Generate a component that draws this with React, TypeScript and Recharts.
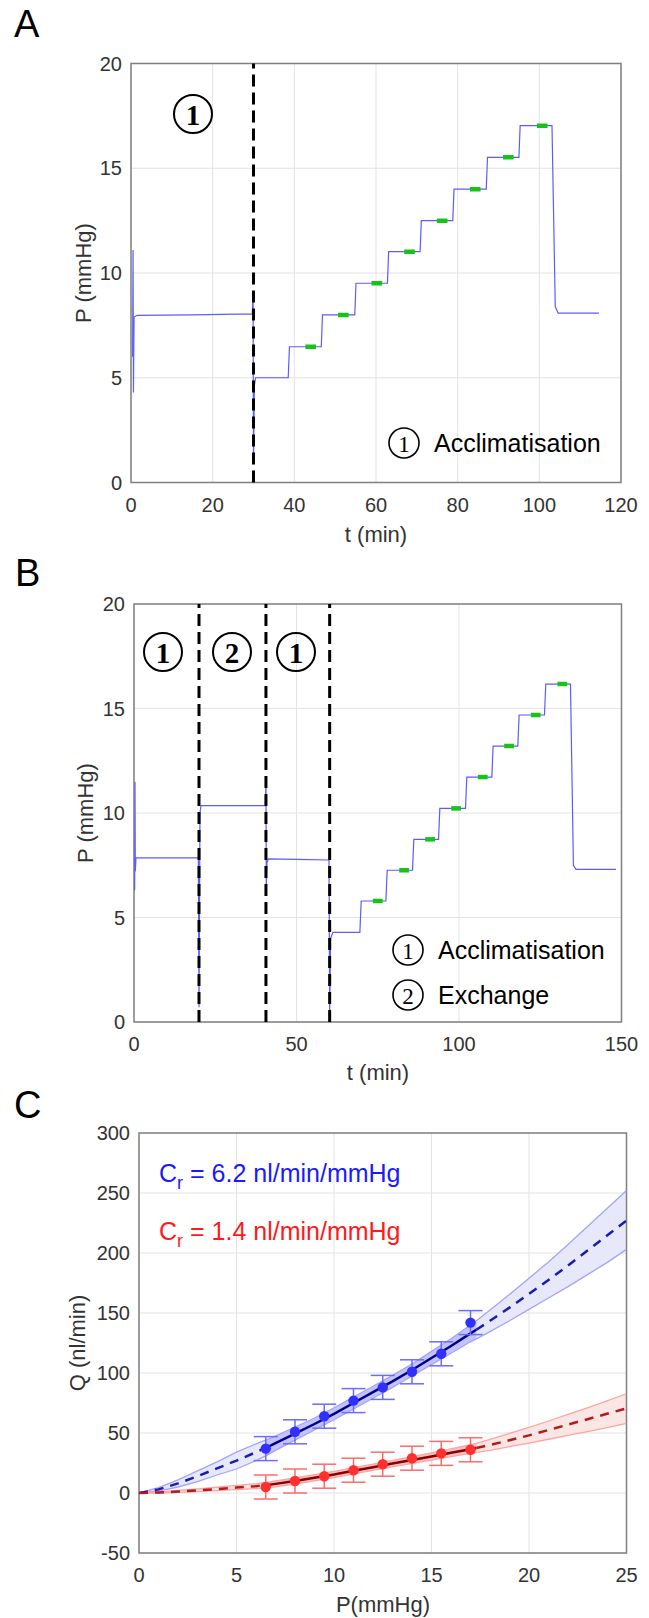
import React from 'react';
import {
  LineChart, Line, XAxis, YAxis, CartesianGrid, ReferenceLine, ReferenceArea,
  ComposedChart, Area, Scatter, ErrorBar,
} from 'recharts';

// ---------- Panel A data ----------
const traceA_t = [0.4, 0.5, 0.6, 0.75, 1.5, 15, 29.7, 29.9, 30.0, 30.2, 30.5, 38.5, 38.8, 46.6, 46.9, 54.8, 55.1, 62.8, 63.1, 70.8, 71.1, 78.8, 79.1, 87.0, 87.3, 95.0, 95.3, 103.1, 103.9, 104.6, 114.6];
const traceA_P = [6.0, 11.1, 4.3, 7.9, 7.98, 8.0, 8.05, 9.0, 0.9, 4.6, 5.0, 5.0, 6.48, 6.48, 8.0, 8.0, 9.51, 9.51, 11.02, 11.02, 12.5, 12.5, 14.0, 14.0, 15.52, 15.52, 17.03, 17.03, 8.4, 8.08, 8.08];
const greenA_t = [44.0, 52.0, 60.2, 68.2, 76.2, 84.3, 92.4, 100.7];
const greenA_P = [6.48, 8.0, 9.51, 11.02, 12.5, 14.0, 15.52, 17.03];
const phaseA = [30];
const ticksA_x = [0, 20, 40, 60, 80, 100, 120];

// ---------- Panel B data ----------
const traceB_t = [0.2, 0.3, 0.4, 0.6, 10, 19.8, 20.0, 20.3, 20.6, 30, 40.4, 40.6, 40.7, 40.9, 41.3, 50, 60.0, 60.2, 60.5, 61.2, 69.5, 69.9, 77.5, 77.9, 85.7, 86.1, 93.7, 94.1, 102.0, 102.4, 110.1, 110.5, 118.1, 118.5, 126.3, 126.7, 134.3, 135.2, 136.0, 148.3];
const traceB_P = [6.3, 11.5, 7.2, 7.85, 7.85, 7.85, 0.7, 10.0, 10.35, 10.35, 10.35, 11.4, 6.4, 7.6, 7.8, 7.78, 7.75, 0.5, 4.0, 4.29, 4.29, 5.79, 5.79, 7.26, 7.26, 8.74, 8.74, 10.22, 10.22, 11.72, 11.72, 13.2, 13.2, 14.69, 14.69, 16.17, 16.17, 7.5, 7.3, 7.3];
const greenB_t = [75.0, 83.1, 91.1, 99.1, 107.3, 115.4, 123.6, 131.8];
const greenB_P = [5.79, 7.26, 8.74, 10.22, 11.72, 13.2, 14.69, 16.17];
const phaseB = [20, 40.6, 60.2];
const ticksB_x = [0, 50, 100, 150];

const ticksP = [0, 5, 10, 15, 20];

// ---------- Panel C data ----------
const fitP = [0, 1, 2, 3, 4, 5, 6, 6.5, 7, 8, 9, 10, 11, 12, 13, 14, 15, 16, 17, 17.3, 18, 19, 20, 21, 22, 23, 24, 25];
const blueFit = [0, 3, 8, 14, 20.5, 27, 34, 37.5, 41.5, 49.5, 57.5, 66, 75, 84, 93, 102.5, 112.5, 122.5, 133, 136, 143.5, 154.5, 166, 177.5, 189.5, 202, 214.5, 227];
const blueLo = [0, 1.5, 5, 9.5, 15, 20, 27, 31, 35.5, 44, 52.5, 61, 70, 79, 88, 97.5, 107, 116.5, 126, 128.5, 134.5, 143.5, 153, 162.5, 172, 182, 192, 203];
const blueHi = [0, 4.5, 11, 18.5, 26, 34, 41, 44, 47.5, 55, 62.5, 71, 80, 89, 98, 107.5, 118, 128.5, 140, 143.5, 152.5, 165.5, 179, 192.5, 207, 222, 237, 252];
const redFit = [0, 0.4, 1.2, 2.2, 3.3, 4.5, 5.7, 6.5, 7.6, 10, 12.7, 15.4, 18.5, 21.5, 24.5, 27.5, 30.5, 33.5, 36.5, 37.5, 40, 44, 48, 52.5, 57, 61.5, 66, 70.5];
const redLo = [0, 0, 0.5, 1.1, 1.9, 2.8, 3.7, 4.3, 5.2, 7.5, 10.1, 12.8, 15.9, 18.9, 21.8, 24.7, 27.5, 30.3, 33, 33.8, 35.6, 38.6, 41.6, 44.8, 48, 51.2, 54.5, 58];
const redHi = [0, 0.9, 2.1, 3.4, 4.8, 6.3, 7.8, 8.7, 10, 12.5, 15.3, 18, 21.1, 24.1, 27.2, 30.3, 33.5, 36.8, 40.2, 41.3, 44.6, 49.6, 54.6, 60, 65.5, 71, 76.8, 82.7];
const solidFrom = 6.5;
const solidTo = 17.3;

const pointP = [6.5, 8, 9.5, 11, 12.5, 14, 15.5, 17];
const blueQ = [37, 51, 64, 77, 88, 101, 116, 142];
const blueErr = [10, 10, 10, 10, 10, 10, 10, 10];
const redQ = [5, 10, 14, 19, 24, 29, 33, 36];
const redErr = [10, 10, 10, 10, 10, 10, 10, 10];
const ticksC_x = [0, 5, 10, 15, 20, 25];
const ticksC_y = [-50, 0, 50, 100, 150, 200, 250, 300];

// ---------- styles ----------
const FONT = '"Liberation Sans", Arial, Helvetica, sans-serif';
const SERIF = '"Liberation Serif", "DejaVu Serif", serif';
const TICK = { fontSize: 20, fill: '#333', fontFamily: FONT };
const GRID = '#e3e3e3';
const BOX = '#808080';

function TracePanel(props: any) {
  const { top, height, margin, xMax, xTicks, tArr, pArr, gT, gP, gHalf, phases } = props;
  const trace = tArr.map((t: number, i: number) => ({ t, P: pArr[i] }));
  return (
    <div style={{ position: 'absolute', left: 0, top }}>
      <LineChart width={649} height={height} margin={margin}>
        <CartesianGrid stroke={GRID} strokeWidth={1} />
        <XAxis type="number" dataKey="t" domain={[0, xMax]} ticks={xTicks} tick={TICK}
          tickLine={false} axisLine={false} tickSize={0} tickMargin={15} height={30} allowDataOverflow />
        <YAxis type="number" domain={[0, 20]} ticks={ticksP} tick={TICK}
          tickLine={false} axisLine={false} tickSize={0} tickMargin={9} width={60} allowDataOverflow />
        <Line data={trace} dataKey="P" type="linear" stroke="#5b5bff" strokeWidth={1.2}
          dot={false} activeDot={false} isAnimationActive={false} />
        {gT.map((c: number, i: number) => (
          <Line key={'g' + i} data={[{ t: c - gHalf, P: gP[i] }, { t: c + gHalf, P: gP[i] }]}
            dataKey="P" stroke="#17c317" strokeWidth={4.5} dot={false} activeDot={false}
            isAnimationActive={false} />
        ))}
        {phases.map((x: number) => (
          <ReferenceLine key={'ph' + x} x={x} stroke="#000" strokeWidth={3} strokeDasharray="12 6" />
        ))}
        <ReferenceArea x1={0} x2={xMax} y1={0} y2={20} fill="none" fillOpacity={0}
          stroke={BOX} strokeWidth={1.5} ifOverflow="visible" />
      </LineChart>
    </div>
  );
}

function PanelC() {
  const rows = fitP.map((P, i) => {
    const inSolid = P >= solidFrom && P <= solidTo;
    return {
      P,
      blueBand: [blueLo[i], blueHi[i]],
      blueInner: inSolid ? [blueLo[i], blueHi[i]] : null,
      blueLo: blueLo[i],
      blueHi: blueHi[i],
      blueDash1: P <= solidFrom ? blueFit[i] : null,
      blueSolid: inSolid ? blueFit[i] : null,
      blueDash2: P >= solidTo ? blueFit[i] : null,
      redBand: [redLo[i], redHi[i]],
      redInner: inSolid ? [redLo[i], redHi[i]] : null,
      redLo: redLo[i],
      redHi: redHi[i],
      redDash1: P <= solidFrom ? redFit[i] : null,
      redSolid: inSolid ? redFit[i] : null,
      redDash2: P >= solidTo ? redFit[i] : null,
    };
  });
  const bluePts = pointP.map((P, i) => ({ P, Q: blueQ[i], err: blueErr[i] }));
  const redPts = pointP.map((P, i) => ({ P, Q: redQ[i], err: redErr[i] }));
  const dot = (fill: string) => (p: any) => <circle cx={p.cx} cy={p.cy} r={5.2} fill={fill} />;
  const common = { dot: false, activeDot: false, isAnimationActive: false, connectNulls: false } as any;
  return (
    <div style={{ position: 'absolute', left: 0, top: 1090 }}>
      <ComposedChart width={649} height={528} data={rows}
        margin={{ top: 43, right: 22.5, left: 79, bottom: 35 }}>
        <CartesianGrid stroke={GRID} strokeWidth={1} />
        <XAxis type="number" dataKey="P" domain={[0, 25]} ticks={ticksC_x} tick={TICK}
          tickLine={false} axisLine={false} tickSize={0} tickMargin={15} height={30} allowDataOverflow />
        <YAxis type="number" domain={[-50, 300]} ticks={ticksC_y} tick={TICK}
          tickLine={false} axisLine={false} tickSize={0} tickMargin={9} width={60} allowDataOverflow />
        <Area dataKey="blueBand" type="linear" stroke="none" fill="#e8e8fb" fillOpacity={1} isAnimationActive={false} />
        <Area dataKey="blueInner" type="linear" stroke="none" fill="#7f7fff" fillOpacity={0.35} isAnimationActive={false} />
        <Area dataKey="redBand" type="linear" stroke="none" fill="#fbe3e3" fillOpacity={0.9} isAnimationActive={false} />
        <Area dataKey="redInner" type="linear" stroke="none" fill="#ff7f7f" fillOpacity={0.35} isAnimationActive={false} />
        <Line dataKey="blueLo" stroke="#a3a3ff" strokeWidth={1.3} {...common} />
        <Line dataKey="blueHi" stroke="#a3a3ff" strokeWidth={1.3} {...common} />
        <Line dataKey="redLo" stroke="#ffa3a3" strokeWidth={1.3} {...common} />
        <Line dataKey="redHi" stroke="#ffa3a3" strokeWidth={1.3} {...common} />
        <Line dataKey="blueDash1" stroke="#1a1ab5" strokeWidth={2.5} strokeDasharray="9 7" {...common} />
        <Line dataKey="blueSolid" stroke="#00008b" strokeWidth={2.5} {...common} />
        <Line dataKey="blueDash2" stroke="#1a1ab5" strokeWidth={2.5} strokeDasharray="9 7" {...common} />
        <Line dataKey="redDash1" stroke="#b51a1a" strokeWidth={2.5} strokeDasharray="9 7" {...common} />
        <Line dataKey="redSolid" stroke="#8b0000" strokeWidth={2.5} {...common} />
        <Line dataKey="redDash2" stroke="#b51a1a" strokeWidth={2.5} strokeDasharray="9 7" {...common} />
        <Scatter data={bluePts} dataKey="Q" fill="#3030ff" shape={dot('#3030ff')} isAnimationActive={false}>
          <ErrorBar dataKey="err" direction="y" width={12} stroke="#6b6bff" strokeWidth={1.5} />
        </Scatter>
        <Scatter data={redPts} dataKey="Q" fill="#ff3030" shape={dot('#ff3030')} isAnimationActive={false}>
          <ErrorBar dataKey="err" direction="y" width={12} stroke="#ff6b6b" strokeWidth={1.5} />
        </Scatter>
        <ReferenceArea x1={0} x2={25} y1={-50} y2={300} fill="none" fillOpacity={0}
          stroke={BOX} strokeWidth={1.5} ifOverflow="visible" />
      </ComposedChart>
    </div>
  );
}

function Circled(props: any) {
  const { cx, cy, r, n, fs, bold, sw } = props;
  return (
    <g>
      <circle cx={cx} cy={cy} r={r} fill="none" stroke="#000" strokeWidth={sw} />
      <text x={cx} y={cy + 1} textAnchor="middle" dominantBaseline="central" fontFamily={SERIF}
        fontSize={fs} fontWeight={bold ? 700 : 400} fill="#000">{n}</text>
    </g>
  );
}

function Overlay() {
  const title = { fontFamily: FONT, fontSize: 22, fill: '#333' } as any;
  const legend = { fontFamily: FONT, fontSize: 25, fill: '#000' } as any;
  return (
    <svg width={649} height={1618} style={{ position: 'absolute', left: 0, top: 0, pointerEvents: 'none' }}>
      <text x={14} y={37} fontFamily={FONT} fontSize={38} fill="#000">A</text>
      <text x={15} y={586} fontFamily={FONT} fontSize={38} fill="#000">B</text>
      <text x={14} y={1118} fontFamily={FONT} fontSize={38} fill="#000">C</text>

      {/* Panel A */}
      <text {...title} x={376} y={534} textAnchor="middle" dominantBaseline="central">t (min)</text>
      <text {...title} x={83} y={273} textAnchor="middle" dominantBaseline="central" transform="rotate(-90 83 273)">P (mmHg)</text>
      <Circled cx={193} cy={114} r={19} n="1" fs={29} bold sw={2} />
      <Circled cx={404} cy={443} r={15} n="1" fs={23} sw={1.6} />
      <text {...legend} x={434} y={443} dominantBaseline="central">Acclimatisation</text>

      {/* Panel B */}
      <text {...title} x={378} y={1072} textAnchor="middle" dominantBaseline="central">t (min)</text>
      <text {...title} x={85} y={813} textAnchor="middle" dominantBaseline="central" transform="rotate(-90 85 813)">P (mmHg)</text>
      <Circled cx={163} cy={652} r={19} n="1" fs={29} bold sw={2} />
      <Circled cx={232} cy={652} r={19} n="2" fs={29} bold sw={2} />
      <Circled cx={296} cy={652} r={19} n="1" fs={29} bold sw={2} />
      <Circled cx={408} cy={950} r={15} n="1" fs={23} sw={1.6} />
      <text {...legend} x={438} y={950} dominantBaseline="central">Acclimatisation</text>
      <Circled cx={408} cy={995} r={15} n="2" fs={23} sw={1.6} />
      <text {...legend} x={438} y={995} dominantBaseline="central">Exchange</text>

      {/* Panel C */}
      <text {...title} x={383} y={1604} textAnchor="middle" dominantBaseline="central">P(mmHg)</text>
      <text {...title} x={77} y={1343} textAnchor="middle" dominantBaseline="central" transform="rotate(-90 77 1343)">Q (nl/min)</text>
      <text x={159} y={1182} fontFamily={FONT} fontSize={25} fill="#1a1aff">
        C<tspan dy={7} fontSize={18}>r</tspan><tspan dy={-7}> = 6.2 nl/min/mmHg</tspan>
      </text>
      <text x={159} y={1240} fontFamily={FONT} fontSize={25} fill="#ff1a1a">
        C<tspan dy={7} fontSize={18}>r</tspan><tspan dy={-7}> = 1.4 nl/min/mmHg</tspan>
      </text>
    </svg>
  );
}

export default function App() {
  return (
    <div style={{ position: 'absolute', left: 0, top: 0, width: 649, height: 1618, background: '#fff', fontFamily: FONT }}>
      <TracePanel top={0} height={545} margin={{ top: 63.5, right: 28, left: 71, bottom: 32.5 }}
        xMax={120} xTicks={ticksA_x} tArr={traceA_t} pArr={traceA_P}
        gT={greenA_t} gP={greenA_P} gHalf={1.3} phases={phaseA} />
      <TracePanel top={560} height={520} margin={{ top: 44, right: 27.5, left: 74, bottom: 28 }}
        xMax={150} xTicks={ticksB_x} tArr={traceB_t} pArr={traceB_P}
        gT={greenB_t} gP={greenB_P} gHalf={1.5} phases={phaseB} />
      <PanelC />
      <Overlay />
    </div>
  );
}
